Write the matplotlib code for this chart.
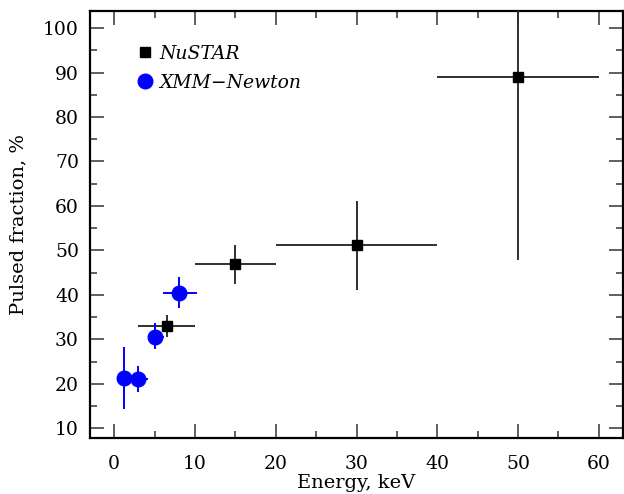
import matplotlib
matplotlib.use("Agg")
import matplotlib.pyplot as plt
from matplotlib.ticker import MultipleLocator
from matplotlib.lines import Line2D

# NuSTAR data
nu_e = [6.5, 15, 30, 50]
nu_elo = [3, 10, 20, 40]
nu_ehi = [10, 20, 40, 60]
nu_pf = [33.1, 47.0, 51.2, 89.0]
nu_lo = [30.6, 42.4, 41.1, 47.8]
nu_hi = [35.4, 51.3, 61.2, 130.0]

# XMM-Newton data
xmm_e = [1.2, 3.0, 5.0, 8.0]
xmm_elo = [0.5, 2.4, 4.4, 6.1]
xmm_ehi = [2.0, 4.2, 6.2, 10.2]
xmm_pf = [21.2, 21.0, 30.6, 40.4]
xmm_lo = [14.3, 18.1, 27.8, 37.0]
xmm_hi = [28.2, 23.9, 33.6, 44.0]

plt.rcParams['font.family'] = ['DejaVu Serif']
fig = plt.figure(figsize=(6.24, 4.94), dpi=100)
ax = fig.add_axes([90/624, (494-438)/494, (623-90)/624, (438-10.7)/494])

def errs(c, lo, hi):
    return [[ci - l for ci, l in zip(c, lo)], [h - ci for ci, h in zip(c, hi)]]

ax.errorbar(nu_e, nu_pf, xerr=errs(nu_e, nu_elo, nu_ehi), yerr=errs(nu_pf, nu_lo, nu_hi),
            fmt='s', color='black', ecolor='#303030', elinewidth=1.4, capsize=0,
            markersize=7, zorder=3)
ax.errorbar(xmm_e, xmm_pf, xerr=errs(xmm_e, xmm_elo, xmm_ehi), yerr=errs(xmm_pf, xmm_lo, xmm_hi),
            fmt='o', color='#0000ff', ecolor='#0000ff', elinewidth=1.4, capsize=0,
            markersize=10.5, zorder=4)

ax.set_xlim(-3, 63)
ax.set_ylim(7.8, 103.9)
ax.xaxis.set_major_locator(MultipleLocator(10))
ax.xaxis.set_minor_locator(MultipleLocator(5))
ax.yaxis.set_major_locator(MultipleLocator(10))
ax.yaxis.set_minor_locator(MultipleLocator(5))
ax.tick_params(which='both', direction='in', top=True, right=True, labelsize=13.5, width=1.2, color='#444444')
ax.tick_params(axis='x', which='major', pad=12)
ax.tick_params(axis='y', which='major', pad=8)
ax.tick_params(which='major', length=10)
ax.tick_params(which='minor', length=5)
for s in ax.spines.values():
    s.set_linewidth(1.6)

ax.set_xlabel('Energy, keV', fontsize=14, labelpad=1)
ax.set_ylabel('Pulsed fraction, %', fontsize=14, labelpad=11)

handles = [Line2D([], [], marker='s', color='black', linestyle='none', markersize=7),
           Line2D([], [], marker='o', color='#0000ff', linestyle='none', markersize=10.5)]
ax.legend(handles, ['NuSTAR', 'XMM\u2212Newton'], loc='upper left', bbox_to_anchor=(0.058, 0.96),
          frameon=False, handlelength=0.8, handletextpad=0.35, labelspacing=0.6,
          prop={'style': 'italic', 'size': 13.5})

fig.savefig('out.png', dpi=100)
